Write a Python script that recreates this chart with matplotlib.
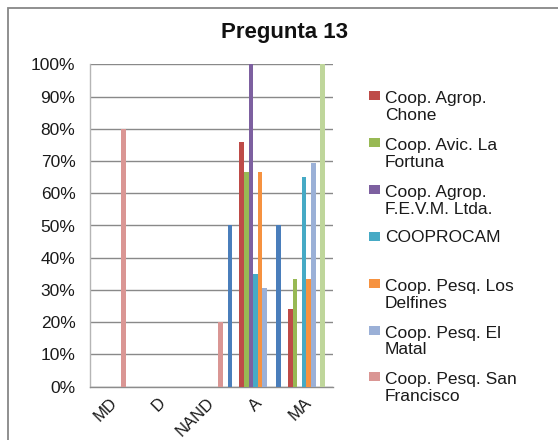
import matplotlib
matplotlib.use("Agg")
import matplotlib.pyplot as plt
from matplotlib.patches import Rectangle
import numpy as np

plt.rcParams['font.family'] = ['Liberation Sans', 'DejaVu Sans']

categories = ['MD', 'D', 'NAND', 'A', 'MA']

series_labels = ['Coop. Agrop.\nChone', 'Coop. Avic. La\nFortuna', 'Coop. Agrop.\nF.E.V.M. Ltda.',
                 'COOPROCAM', 'Coop. Pesq. Los\nDelfines', 'Coop. Pesq. El\nMatal',
                 'Coop. Pesq. San\nFrancisco', '', '']

chone = [0, 0, 0, 0.76, 0.24]
fortuna = [0, 0, 0, 0.667, 0.333]
fevm = [0, 0, 0, 1.00, 0]
cooprocam = [0, 0, 0, 0.35, 0.65]
delfines = [0, 0, 0, 0.667, 0.333]
matal = [0, 0, 0, 0.305, 0.695]
san_francisco = [0.80, 0, 0.20, 0, 0]
unnamed_green = [0, 0, 0, 0, 1.00]
unnamed_blue = [0, 0, 0.50, 0.50, 0]

series_values = [chone, fortuna, fevm, cooprocam, delfines, matal, san_francisco,
                 unnamed_green, unnamed_blue]
colors = ['#BE4B48', '#98B954', '#7D60A0', '#46AAC5', '#F69240', '#9BB0D7',
          '#DA9694', '#BFD69B', '#4A7EBB']

yticks = [0, 0.1, 0.2, 0.3, 0.4, 0.5, 0.6, 0.7, 0.8, 0.9, 1.0]
ytick_labels = ['0%', '10%', '20%', '30%', '40%', '50%', '60%', '70%', '80%', '90%', '100%']

W, H = 558, 440
fig = plt.figure(figsize=(W / 100, H / 100), dpi=100)
fig.patch.set_facecolor('white')

def fx(px):
    return px / W

def fy(py):
    return 1 - py / H

# chart-area border (only top and left visible)
fig.add_artist(Rectangle((fx(7.5), -0.2), 1.3, fy(8.5) + 0.2, transform=fig.transFigure,
                         fill=False, edgecolor='#878787', linewidth=1.3))

ax = fig.add_axes([fx(90), fy(386.7), fx(333) - fx(90), fy(64.3) - fy(386.7)])

n = len(series_values)
x = np.arange(len(categories))
bw = 1 / 10.5
for i, (vals, col) in enumerate(zip(series_values, colors)):
    off = (i - (n - 1) / 2) * bw
    ax.bar(x + off, vals, width=bw, color=col, edgecolor='none', zorder=3)

ax.set_xlim(-0.5, len(categories) - 0.5)
ax.set_ylim(0, 1)
ax.set_yticks(yticks)
ax.set_yticklabels(ytick_labels, fontsize=12.5, color='#1a1a1a')
ax.set_xticks(x)
ax.set_xticklabels(categories, fontsize=12, color='#1a1a1a', rotation=45,
                   ha='right', va='center', rotation_mode='anchor')
ax.tick_params(axis='y', length=0, pad=10.5)
ax.tick_params(axis='x', length=0, pad=10)
ax.yaxis.grid(True, color='#898989', linewidth=1.0, zorder=0)
ax.set_axisbelow(True)
for s in ['top', 'right']:
    ax.spines[s].set_visible(False)
ax.spines['left'].set_color('#B5B5B5')
ax.spines['bottom'].set_color('#8C8C8C')
ax.spines['left'].set_linewidth(1.0)
ax.spines['bottom'].set_linewidth(1.0)

fig.text(fx(284.7), fy(32.3), 'Pregunta 13', fontsize=16, fontweight='bold',
         ha='center', va='center', color='#111111')

# legend (first seven series)
base0 = 102
step = 46.8
line_step = 18.3
for i in range(7):
    b = base0 + i * step
    nlines = series_labels[i].count('\n') + 1
    fig.add_artist(Rectangle((fx(369), fy(b - 1.5)), fx(11), fy(b - 10.5) - fy(b - 1.5),
                             transform=fig.transFigure, facecolor=colors[i], edgecolor='none'))
    fig.text(fx(385), fy(b + line_step * (nlines - 1)), series_labels[i], fontsize=12.5,
             ha='left', va='baseline', color='#1a1a1a', linespacing=1.15)

fig.savefig('out.png', dpi=100, facecolor='white')
